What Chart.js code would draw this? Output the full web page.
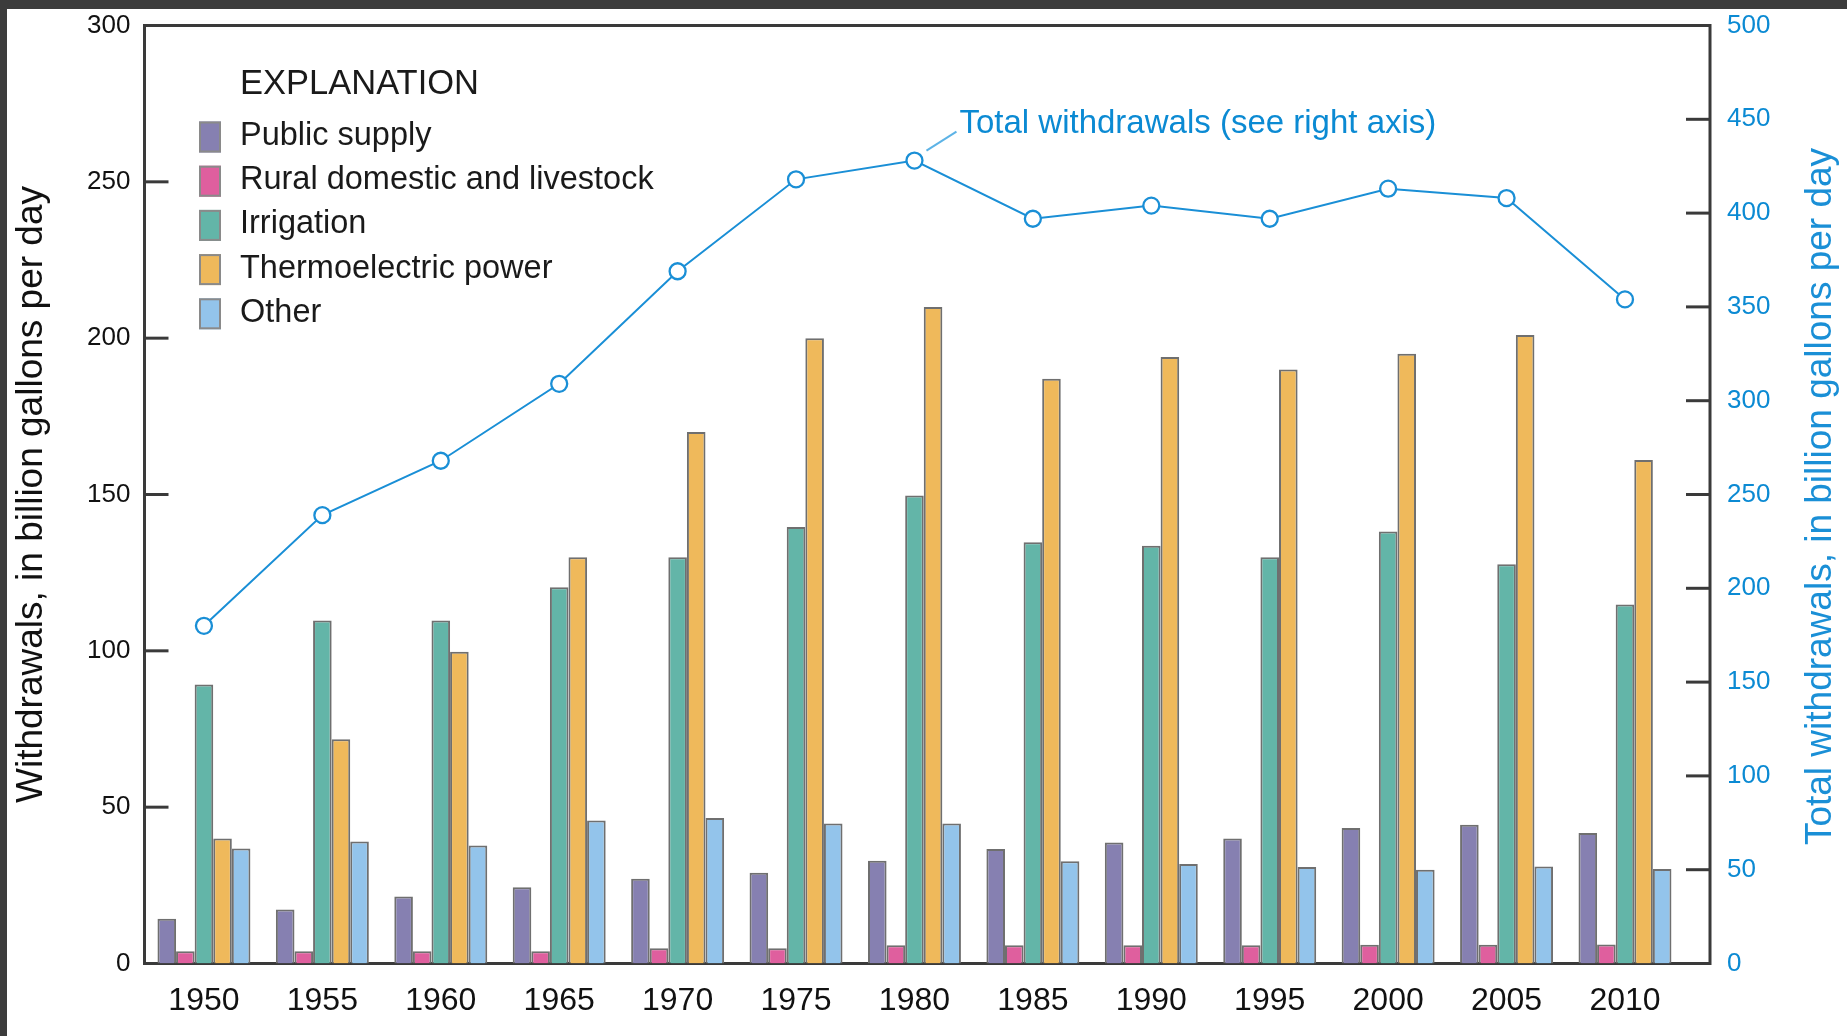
<!DOCTYPE html>
<html>
<head>
<meta charset="utf-8">
<script src="https://cdn.jsdelivr.net/npm/chart.js@4.4.1/dist/chart.umd.min.js"></script>
<style>
  html, body { margin: 0; padding: 0; background: #fff; }
  #frame {
    position: absolute; left: 0; top: 0; width: 1847px; height: 1036px;
    box-sizing: border-box; background: #fff;
    border-top: 9px solid #3c3c3c; border-left: 7px solid #3c3c3c;
  }
  #wrap { position: relative; width: 1840px; height: 1027px; }
</style>
</head>
<body>
<div id="frame"><div id="wrap"><canvas id="withdrawals"></canvas></div></div>
<script>
const years = [1950, 1955, 1960, 1965, 1970, 1975, 1980, 1985, 1990, 1995, 2000, 2005, 2010];

const publicSupply = [14.3, 17.3, 21.4, 24.4, 27.1, 29, 32.9, 36.6, 38.7, 40, 43.3, 44.4, 41.7];
const ruralDomestic = [3.9, 3.9, 3.9, 3.9, 4.9, 4.9, 5.8, 5.8, 5.8, 5.8, 6.0, 6.0, 6.1];
const irrigation = [89.2, 109.7, 109.7, 120.3, 129.9, 139.6, 149.7, 134.7, 133.6, 129.9, 138.2, 127.7, 114.8];
const thermoelectric = [40, 71.7, 99.7, 129.9, 170, 200, 210, 187, 194, 190, 195, 201, 161];
const other = [36.8, 39, 37.7, 45.7, 46.5, 44.8, 44.8, 32.7, 31.8, 30.9, 30, 31, 30.2];
const totalWithdrawals = [180, 239, 268, 309, 369, 418, 428, 397, 404, 397, 413, 408, 354];

const leftTicks = [50, 100, 150, 200, 250];
const rightTicks = [50, 100, 150, 200, 250, 300, 350, 400, 450];

const leftTitle = 'Withdrawals, in billion gallons per day';
const rightTitle = 'Total withdrawals, in billion gallons per day';
const legendTitle = 'EXPLANATION';
const lineNote = 'Total withdrawals (see right axis)';

const blue = '#1a8fd6';
const barBorder = '#6f6f6f';
const textFont = '"Liberation Sans", Arial, sans-serif';

function barSet(label, data, color) {
  return {
    type: 'bar',
    label: label,
    data: data,
    backgroundColor: color,
    borderColor: barBorder,
    borderWidth: 2,
    yAxisID: 'y',
    order: 1,
    categoryPercentage: 0.785,
    barPercentage: 1
  };
}

// keep the axes from pushing the plot in for their end labels
function noEdgePadding(s) {
  s.paddingTop = 0;
  s.paddingBottom = 0;
}

// box round the plot + the short ticks that point inward
const framePlugin = {
  id: 'frame',
  beforeDatasetsDraw(chart) {
    const {ctx, chartArea: a, scales} = chart;
    ctx.save();
    ctx.strokeStyle = '#3a3a3a';
    ctx.lineWidth = 3;
    ctx.strokeRect(a.left, a.top, a.right - a.left, a.bottom - a.top);
    leftTicks.forEach(v => {
      const y = scales.y.getPixelForValue(v);
      ctx.beginPath(); ctx.moveTo(a.left, y); ctx.lineTo(a.left + 24, y); ctx.stroke();
    });
    rightTicks.forEach(v => {
      const y = scales.y1.getPixelForValue(v);
      ctx.beginPath(); ctx.moveTo(a.right - 24, y); ctx.lineTo(a.right, y); ctx.stroke();
    });
    ctx.restore();
  }
};

// EXPLANATION box, note on the line, right axis title
const extrasPlugin = {
  id: 'extras',
  afterDraw(chart) {
    const {ctx, chartArea: a, scales} = chart;
    ctx.save();

    ctx.textBaseline = 'middle';
    ctx.textAlign = 'left';
    ctx.fillStyle = '#1a1a1a';
    ctx.font = '34.5px ' + textFont;
    ctx.fillText(legendTitle, a.left + 95.5, a.top + 59);

    ctx.font = '32.5px ' + textFont;
    chart.data.datasets.filter(d => d.type === 'bar').forEach((d, i) => {
      const cy = a.top + 111.5 + i * 44.2;
      ctx.fillStyle = d.backgroundColor;
      ctx.fillRect(a.left + 54.5, cy - 15.5, 22, 31);
      ctx.strokeStyle = '#8a8a8a';
      ctx.lineWidth = 2;
      ctx.strokeRect(a.left + 55.5, cy - 14.5, 20, 29);
      ctx.fillStyle = '#1a1a1a';
      ctx.fillText(d.label, a.left + 95.5, cy - 1);
    });

    // note pointing at the 1980 total
    const px = scales.x.getPixelForValue(years[6]);
    const py = scales.y1.getPixelForValue(totalWithdrawals[6]);
    ctx.strokeStyle = '#5db3e6';
    ctx.lineWidth = 2;
    ctx.beginPath(); ctx.moveTo(px + 12, py - 10); ctx.lineTo(px + 42, py - 29); ctx.stroke();
    ctx.fillStyle = '#0b8ad3';
    ctx.font = '33px ' + textFont;
    ctx.fillText(lineNote, px + 45, py - 37);

    // right title reads bottom to top like the left one
    ctx.translate(chart.width - 26, (a.top + a.bottom) / 2 + 2);
    ctx.rotate(-Math.PI / 2);
    ctx.textAlign = 'center';
    ctx.fillStyle = blue;
    ctx.font = '37px ' + textFont;
    ctx.fillText(rightTitle, 0, 0);
    ctx.restore();
  }
};

new Chart(document.getElementById('withdrawals'), {
  type: 'bar',
  plugins: [framePlugin, extrasPlugin],
  data: {
    labels: years,
    datasets: [
      {
        type: 'line',
        label: 'Total withdrawals',
        data: totalWithdrawals,
        yAxisID: 'y1',
        borderColor: blue,
        borderWidth: 2,
        pointRadius: 8,
        pointBorderWidth: 2.3,
        pointBackgroundColor: '#fff',
        pointBorderColor: blue,
        tension: 0,
        order: 0
      },
      barSet('Public supply', publicSupply, '#8680b1'),
      barSet('Rural domestic and livestock', ruralDomestic, '#df5f9e'),
      barSet('Irrigation', irrigation, '#63b5a8'),
      barSet('Thermoelectric power', thermoelectric, '#efb95b'),
      barSet('Other', other, '#93c4eb')
    ]
  },
  options: {
    responsive: true,
    maintainAspectRatio: false,
    animation: false,
    layout: { padding: { top: 16.5, left: 0, right: 0, bottom: 0 } },
    plugins: {
      legend: { display: false },
      tooltip: { enabled: false }
    },
    scales: {
      x: {
        type: 'linear',
        min: 1947.49,
        max: 2013.59,
        offset: false,
        grid: { display: false, drawTicks: false },
        border: { display: false },
        ticks: {
          color: '#111',
          font: { family: textFont, size: 32 },
          padding: 18,
          maxRotation: 0,
          minRotation: 0,
          autoSkip: false,
          callback: v => String(v)
        },
        afterBuildTicks: s => { s.ticks = years.map(v => ({ value: v })); },
        afterFit: s => { s.height = 72.5; s.paddingLeft = 0; s.paddingRight = 0; }
      },
      y: {
        position: 'left',
        min: 0,
        max: 300,
        grid: { display: false, drawTicks: false },
        border: { display: false },
        ticks: {
          stepSize: 50,
          color: '#111',
          font: { family: textFont, size: 26 },
          padding: 14
        },
        title: {
          display: true,
          text: leftTitle,
          color: '#111',
          font: { family: textFont, size: 37 },
          padding: { top: 3, bottom: 0 }
        },
        afterFit: s => { s.width = 137.5; noEdgePadding(s); }
      },
      y1: {
        position: 'right',
        min: 0,
        max: 500,
        grid: { display: false, drawTicks: false },
        border: { display: false },
        ticks: {
          stepSize: 50,
          color: '#0b8ad3',
          font: { family: textFont, size: 26 },
          padding: 17
        },
        afterFit: s => { s.width = 137; noEdgePadding(s); }
      }
    }
  }
});
</script>
</body>
</html>
